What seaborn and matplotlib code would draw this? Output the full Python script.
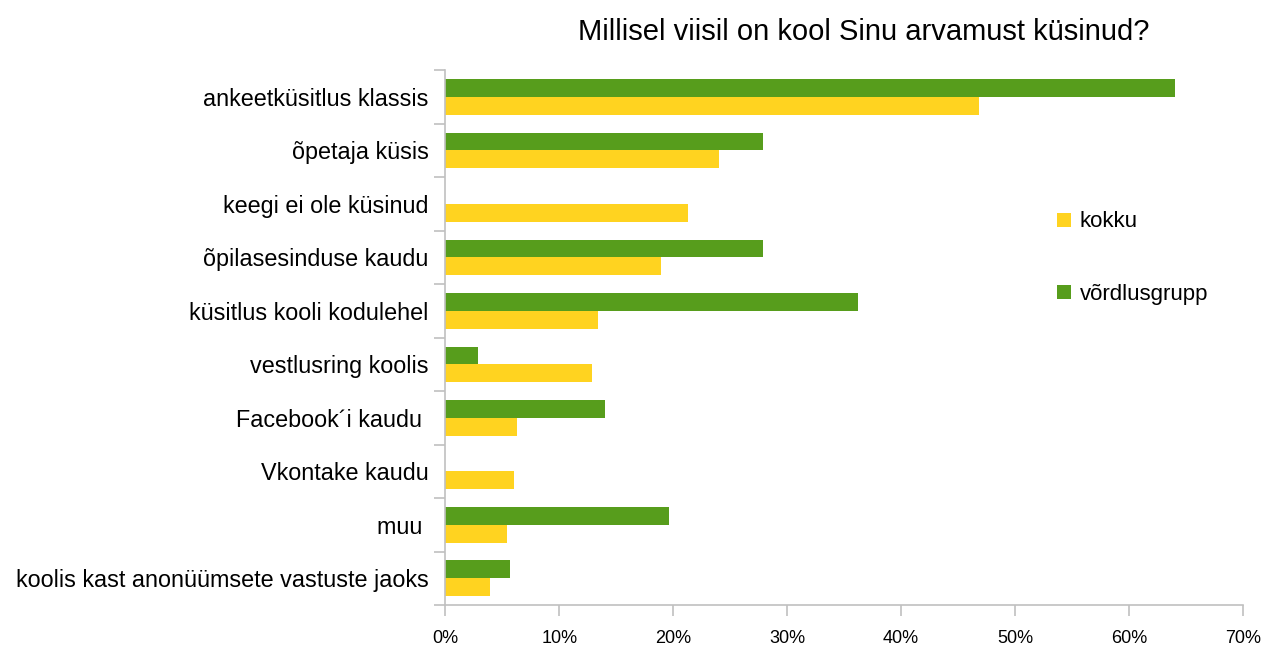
import seaborn as sns
import matplotlib.pyplot as plt
import pandas as pd
from matplotlib.patches import Patch
from matplotlib.ticker import PercentFormatter

# Categories (top to bottom) and the two series, in percent
categories = [
    "ankeetküsitlus klassis",
    "õpetaja küsis",
    "keegi ei ole küsinud",
    "õpilasesinduse kaudu",
    "küsitlus kooli kodulehel",
    "vestlusring koolis",
    "Facebook´i kaudu ",
    "Vkontake kaudu",
    "muu ",
    "koolis kast anonüümsete vastuste jaoks",
]
kokku = [46.8, 24.0, 21.3, 18.9, 13.4, 12.9, 6.3, 6.0, 5.4, 3.9]
vordlusgrupp = [64.0, 27.9, 0.0, 27.9, 36.2, 2.9, 14.0, 0.0, 19.6, 5.7]
series_names = ["kokku", "võrdlusgrupp"]
colors = {"kokku": "#ffd320", "võrdlusgrupp": "#579d1c"}
x_ticks = [0, 10, 20, 30, 40, 50, 60, 70]

df = pd.DataFrame({
    "kategooria": categories * 2,
    "grupp": ["kokku"] * len(categories) + ["võrdlusgrupp"] * len(categories),
    "väärtus": kokku + vordlusgrupp,
})

sns.set_style("white")
plt.rcParams["font.family"] = ["Liberation Sans", "DejaVu Sans"]
plt.rcParams["text.color"] = "black"
plt.rcParams["xtick.color"] = "black"
plt.rcParams["ytick.color"] = "black"

fig = plt.figure(figsize=(12.65, 6.5), dpi=100)
ax = fig.add_axes([0.352, 0.069, 0.6306, 0.823])

sns.barplot(
    data=df, x="väärtus", y="kategooria", hue="grupp",
    order=categories, hue_order=["võrdlusgrupp", "kokku"],
    palette=colors, orient="h", width=0.67, gap=0, linewidth=0,
    saturation=1, errorbar=None, ax=ax, legend=False,
)

axis_grey = "#c0c0c0"
ax.set_xlim(0, 70)
ax.set_xticks(x_ticks)
ax.xaxis.set_major_formatter(PercentFormatter(decimals=0))
ax.set_ylim(len(categories) - 0.5, -0.5)
ax.set_yticks([i - 0.5 for i in range(len(categories) + 1)], minor=True)
ax.tick_params(axis="y", which="major", left=True, length=0, labelsize=16.8, pad=12, labelcolor="black")
ax.tick_params(axis="y", which="minor", left=True, length=8, color=axis_grey, width=1.2)
ax.tick_params(axis="x", bottom=True, length=8, color=axis_grey, width=1.2,
               labelsize=13, pad=10, labelcolor="black")
ax.set_xlabel("")
ax.set_ylabel("")
for side in ["top", "right"]:
    ax.spines[side].set_visible(False)
for side in ["left", "bottom"]:
    ax.spines[side].set_color(axis_grey)
    ax.spines[side].set_linewidth(1.2)
ax.grid(False)

ax.set_title("Millisel viisil on kool Sinu arvamust küsinud?", fontsize=21, pad=22, x=0.525,
             color="black")

handles = [Patch(facecolor=colors[name], edgecolor="none") for name in series_names]
fig.legend(
    handles, series_names, loc="center left", bbox_to_anchor=(0.82, 0.603),
    frameon=False, fontsize=16, handlelength=0.6, handleheight=0.6,
    handletextpad=0.4, labelspacing=2.3,
)

fig.savefig("out.png", dpi=100, facecolor="white")
